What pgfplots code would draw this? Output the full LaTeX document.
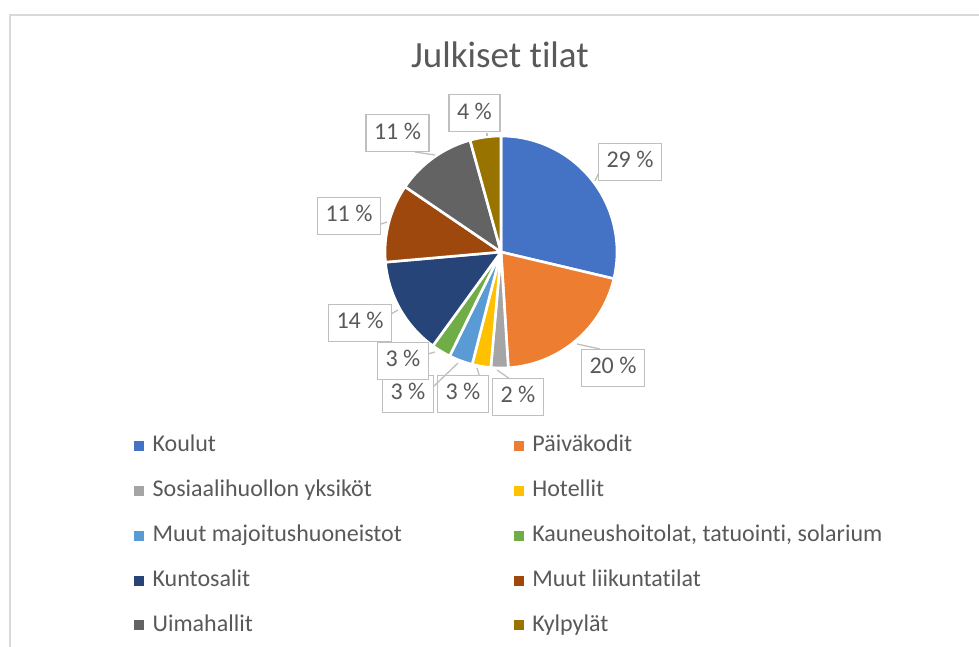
\documentclass[border=0pt]{standalone}
\usepackage{pgfplots}
\pgfplotsset{compat=1.18}
\usepackage{pgfplotstable}
\usepackage{fontspec}
\setmainfont{Carlito}[Ligatures={NoCommon,NoContextual}]
\definecolor{c1}{HTML}{4472C4}
\definecolor{c2}{HTML}{ED7D31}
\definecolor{c3}{HTML}{A5A5A5}
\definecolor{c4}{HTML}{FFC000}
\definecolor{c5}{HTML}{5B9BD5}
\definecolor{c6}{HTML}{70AD47}
\definecolor{c7}{HTML}{264478}
\definecolor{c8}{HTML}{9E480E}
\definecolor{c9}{HTML}{636363}
\definecolor{c10}{HTML}{997300}
\definecolor{txt}{HTML}{595959}
\definecolor{lblborder}{HTML}{BFBFBF}
\definecolor{framec}{HTML}{D9D9D9}
\newcommand\titlefont{\fontsize{37}{44}\selectfont}
\newcommand\legfont{\fontsize{24}{29}\selectfont}
\tikzset{lbl/.style={draw=lblborder, line width=1.3pt, fill=white, text=txt,
  font=\legfont, inner xsep=8pt, inner ysep=0pt, minimum height=37pt,
  text height=16pt, text depth=4pt}}

% name; value (%); rounded label; colour; label centre; leader tip; leader end at box
\pgfplotstableread[col sep=semicolon]{
name;value;lab;col;lx;ly;tx;ty;bx;by
Koulut;28.7;29;c1;630;-162;595;-181;601;-168
Päiväkodit;20.3;20;c2;613;-368;577;-344;600;-349
Sosiaalihuollon yksiköt;2.4;2;c3;518;-397;497;-370;510;-379
Hotellit;2.6;3;c4;463;-394;477;-368;480;-378
Muut majoitushuoneistot;3.3;3;c5;408;-394;458;-363;433;-387
Kauneushoitolat, tatuointi, solarium;2.7;3;c6;403;-361;435;-352;428;-354
Kuntosalit;13.6;14;c7;360;-323;398;-310;391;-314
Muut liikuntatilat;10.9;11;c8;349;-216;387;-222;381;-224
Uimahallit;11.2;11;c9;397.5;-133.3;435;-155;415;-152
Kylpylät;4.3;4;c10;474.5;-113.3;487;-136;487;-133
}\piedata

\begin{document}
\begin{tikzpicture}
\path[use as bounding box] (0,0) rectangle (979pt,647pt);
\begin{axis}[
  at={(0,0)}, anchor=south west,
  x=1pt, y=1pt, xmin=0, xmax=979, ymin=-647, ymax=0,
  hide axis, clip=false,
  legend columns=2,
  legend cell align=left,
  legend image code/.code={\fill[#1] (0pt,-4.5pt) rectangle (9pt,4.5pt);},
  legend style={draw=none, fill=none, inner sep=0pt,
    at={(axis cs:134,-433.7)}, anchor=north west,
    font=\legfont, text=txt, row sep=20.8pt,
    nodes={inner sep=0pt, text height=18pt, text depth=6pt},
    /tikz/every odd column/.append style={column sep=9pt},
    /tikz/every even column/.append style={column sep=112pt}},
  legend entries={Koulut, Päiväkodit, Sosiaalihuollon yksiköt, Hotellit,
    Muut majoitushuoneistot, {Kauneushoitolat, tatuointi, solarium},
    Kuntosalit, Muut liikuntatilat, Uimahallit, Kylpylät},
]
\addlegendimage{c1}\addlegendimage{c2}\addlegendimage{c3}\addlegendimage{c4}
\addlegendimage{c5}\addlegendimage{c6}\addlegendimage{c7}\addlegendimage{c8}
\addlegendimage{c9}\addlegendimage{c10}

% chart frame and title
\draw[framec, line width=1.5pt] (axis cs:979,-15) -- (axis cs:10,-15) -- (axis cs:10,-647);
\node[font=\titlefont, text=txt, anchor=base] at (axis cs:500,-67.3) {Julkiset tilat};

% pie slices from the table
\def\piecum{0}
\pgfplotsforeachungrouped \i in {0,...,9}{%
  \pgfplotstablegetelem{\i}{value}\of\piedata \let\pieval\pgfplotsretval
  \pgfplotstablegetelem{\i}{col}\of\piedata \let\piecol\pgfplotsretval
  \pgfmathsetmacro\piea{90-3.6*\piecum}%
  \pgfmathsetmacro\pieb{90-3.6*(\piecum+\pieval)}%
  \edef\temp{\noexpand\fill[\piecol, draw=white, line width=2.6pt, line join=round]
    (axis cs:501,-252) -- ++(\piea:116pt) arc[start angle=\piea, end angle=\pieb, radius=116pt] -- cycle;}%
  \temp
  \pgfmathsetmacro\piecum{\piecum+\pieval}%
}
% data labels
\pgfplotsforeachungrouped \i in {0,...,9}{%
  \pgfplotstablegetelem{\i}{lab}\of\piedata \let\pielab\pgfplotsretval
  \pgfplotstablegetelem{\i}{lx}\of\piedata \let\pielx\pgfplotsretval
  \pgfplotstablegetelem{\i}{ly}\of\piedata \let\piely\pgfplotsretval
  \pgfplotstablegetelem{\i}{tx}\of\piedata \let\pietx\pgfplotsretval
  \pgfplotstablegetelem{\i}{ty}\of\piedata \let\piety\pgfplotsretval
  \pgfplotstablegetelem{\i}{bx}\of\piedata \let\piebx\pgfplotsretval
  \pgfplotstablegetelem{\i}{by}\of\piedata \let\pieby\pgfplotsretval
  \edef\temp{\noexpand\draw[lblborder, line width=1.3pt] (axis cs:\pietx,\piety) -- (axis cs:\piebx,\pieby);
    \noexpand\node[lbl] at (axis cs:\pielx,\piely) {\pielab\space\noexpand\%};}%
  \temp
}
\end{axis}
\end{tikzpicture}
\end{document}
